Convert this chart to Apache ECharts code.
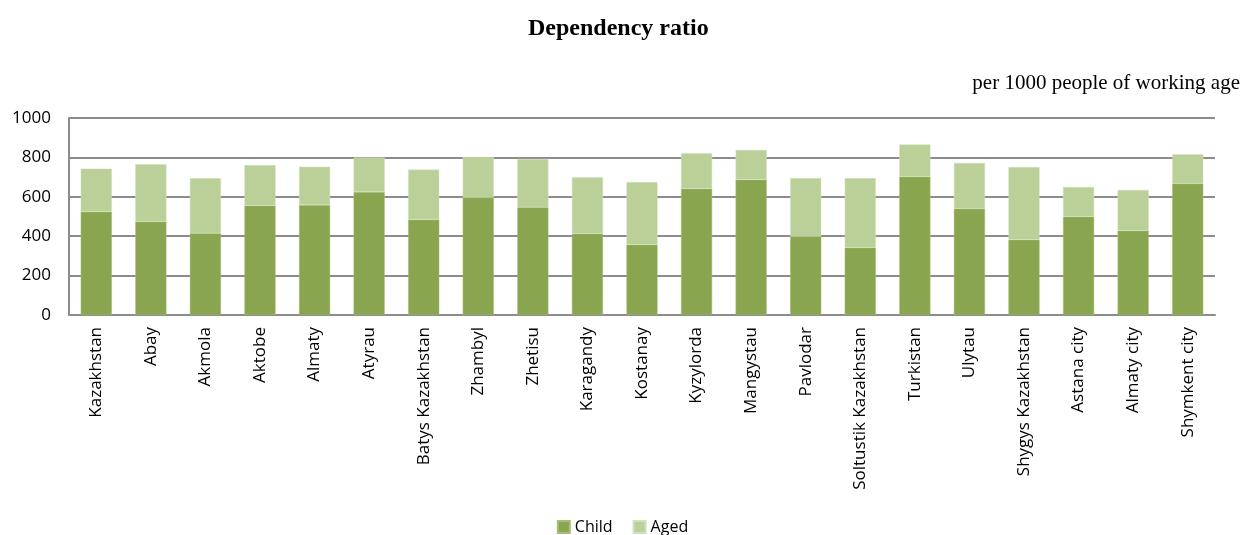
<!DOCTYPE html>
<html><head><meta charset="utf-8">
<script src="https://cdn.jsdelivr.net/npm/echarts@6/dist/echarts.min.js"></script>
<style>html,body{margin:0;padding:0;background:#fff}#c{width:1245px;height:535px}</style>
</head><body><div id="c"></div>
<script>
const categories = ["Kazakhstan","Abay","Akmola","Aktobe","Almaty","Atyrau","Batys Kazakhstan","Zhambyl","Zhetisu","Karagandy","Kostanay","Kyzylorda","Mangystau","Pavlodar","Soltustik Kazakhstan","Turkistan","Ulytau","Shygys Kazakhstan","Astana city","Almaty city","Shymkent city"];
const child = [524,474,415,555,558,624,484,596,547,413,357,641,687,399,342,702,540,382,499,428,667];
const aged  = [219,291,279,206,195,175,254,206,245,286,318,180,151,296,353,164,232,369,151,207,149];
const yTicks = [0,200,400,600,800,1000];

const chart = echarts.init(document.getElementById('c'));
chart.setOption({
  animation:false,
  title:[
    {text:'Dependency ratio',left:523,top:12,textStyle:{fontFamily:'Liberation Serif',fontWeight:'bold',fontSize:24,color:'#000'}},
    {text:'per 1000 people of working age',right:0,top:68,textStyle:{fontFamily:'Liberation Serif',fontWeight:'normal',fontSize:21,color:'#000'}}
  ],
  legend:{bottom:-5,left:'center',itemWidth:12,itemHeight:12,itemGap:20,icon:'rect',
    textStyle:{fontFamily:'Open Sans',fontSize:16,color:'#000'},data:['Child','Aged']},
  grid:{left:69,right:30,top:118,bottom:220,containLabel:false},
  xAxis:{type:'category',data:categories,
    axisLine:{show:true,lineStyle:{color:'#8c8c8c',width:2}},axisTick:{show:false},
    axisLabel:{rotate:90,interval:0,fontFamily:'Open Sans',fontSize:17,color:'#000',margin:12}},
  yAxis:{type:'value',min:0,max:1000,interval:200,
    axisLine:{show:true,lineStyle:{color:'#8c8c8c',width:2}},axisTick:{show:false},
    splitLine:{lineStyle:{color:'#8c8c8c',width:2}},
    axisLabel:{fontFamily:'Open Sans',fontSize:17,color:'#000',margin:18,
      formatter:v=>yTicks.includes(v)?String(v):''}},
  series:[
    {name:'Child',type:'bar',stack:'t',data:child,barWidth:'57%',itemStyle:{color:'#8aa54f',borderColor:'#a6bd77',borderWidth:0.5}},
    {name:'Aged',type:'bar',stack:'t',data:aged,barWidth:'57%',itemStyle:{color:'#bbcf98',borderColor:'#d3e0bd',borderWidth:0.5}}
  ]
});
</script></body></html>
